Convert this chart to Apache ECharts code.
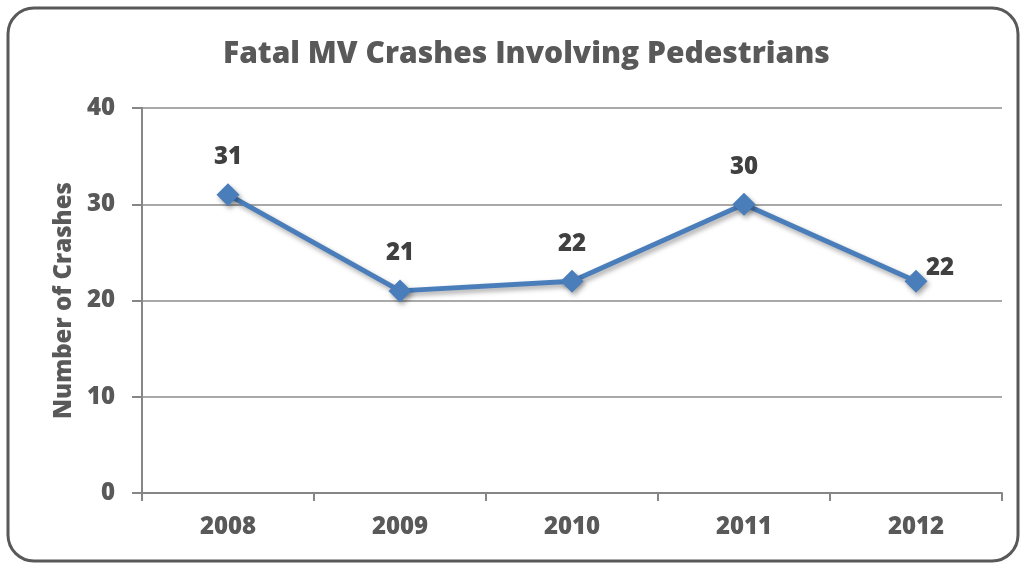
<!doctype html>
<html lang="en">
    <head>
        <meta charset="UTF-8" />
        <title>Fatal MV Crashes Involving Pedestrians</title>
        <script src="https://cdn.jsdelivr.net/npm/echarts@6/dist/echarts.min.js"></script>
    </head>
    <body style="margin: 0">
        <!-- Chart container -->
        <div id="main" style="width: 1024px; height: 565px"></div>

        <script>
            // Data
            const years = ["2008", "2009", "2010", "2011", "2012"];
            const crashes = [31, 21, 22, 30, 22];
            const yTicks = [0, 10, 20, 30, 40];

            const myChart = echarts.init(document.getElementById("main"));
            const fontFamily = "'Open Sans', 'Liberation Sans', sans-serif";

            const options = {
                backgroundColor: "#fff",
                textStyle: { fontFamily: fontFamily },
                graphic: [
                    {
                        type: "rect",
                        shape: { x: 8, y: 8, width: 1010, height: 553, r: 26 },
                        style: { fill: "none", stroke: "#595959", lineWidth: 3 },
                        z: -1,
                    },
                ],
                title: {
                    text: "Fatal MV Crashes Involving Pedestrians",
                    left: 218,
                    top: 34,
                    textStyle: {
                        fontFamily: fontFamily,
                        fontSize: 30,
                        fontWeight: 800,
                        color: "#595959",
                    },
                },
                grid: { left: 142, right: 22, top: 108, bottom: 72 },
                xAxis: {
                    type: "category",
                    data: years,
                    boundaryGap: true,
                    axisLine: { lineStyle: { color: "#868686", width: 2 } },
                    axisTick: {
                        show: true,
                        length: 8,
                        lineStyle: { color: "#868686", width: 2 },
                    },
                    axisLabel: {
                        margin: 22,
                        fontSize: 24,
                        fontWeight: 800,
                        color: "#595959",
                    },
                },
                yAxis: {
                    type: "value",
                    min: yTicks[0],
                    max: yTicks[yTicks.length - 1],
                    interval: 10,
                    name: "Number of Crashes",
                    nameLocation: "middle",
                    nameGap: 66,
                    nameRotate: 90,
                    nameTextStyle: {
                        fontSize: 24,
                        fontWeight: 800,
                        color: "#595959",
                    },
                    axisLine: { show: true, lineStyle: { color: "#868686", width: 2 } },
                    axisTick: {
                        show: true,
                        length: 10,
                        lineStyle: { color: "#868686", width: 2 },
                    },
                    axisLabel: {
                        margin: 27,
                        fontSize: 24,
                        fontWeight: 800,
                        color: "#595959",
                    },
                    splitLine: { lineStyle: { color: "#8c8c8c", width: 1.5 } },
                },
                series: [
                    {
                        name: "Crashes",
                        type: "line",
                        data: crashes.map((v, i) =>
                            i === crashes.length - 1
                                ? { value: v, label: { offset: [24, 24] } }
                                : v
                        ),
                        symbol: "diamond",
                        symbolSize: 23,
                        lineStyle: {
                            color: "#4a7ebb",
                            width: 5,
                            shadowColor: "rgba(0,0,0,0.35)",
                            shadowBlur: 5,
                            shadowOffsetX: 2,
                            shadowOffsetY: 3,
                        },
                        itemStyle: {
                            color: "#4a7ebb",
                            shadowColor: "rgba(0,0,0,0.35)",
                            shadowBlur: 5,
                            shadowOffsetX: 2,
                            shadowOffsetY: 3,
                        },
                        label: {
                            show: true,
                            position: "top",
                            distance: 14,
                            fontSize: 24,
                            fontWeight: 800,
                            color: "#404040",
                        },
                        animation: false,
                    },
                ],
            };

            myChart.setOption(options);
        </script>
    </body>
</html>
